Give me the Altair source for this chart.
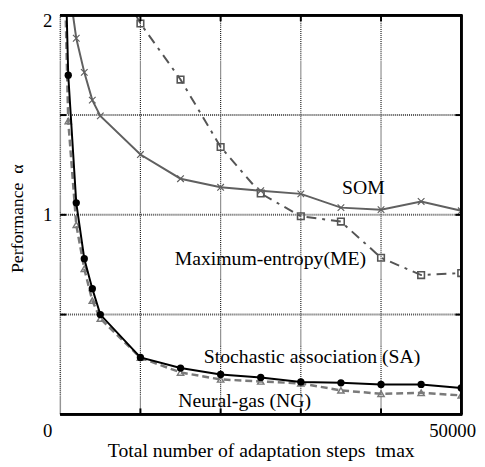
import altair as alt
import pandas as pd

# ---- data ----
X_SA = [500, 1000, 2000, 3000, 4000, 5000, 10000, 15000, 20000, 25000, 30000, 35000, 40000, 45000, 50000]
SA = [2.5, 1.70, 1.06, 0.78, 0.63, 0.50, 0.285, 0.232, 0.20, 0.185, 0.162, 0.158, 0.15, 0.15, 0.132]

X_NG = [500, 1000, 2000, 3000, 4000, 5000, 10000, 15000, 20000, 25000, 30000, 35000, 40000, 45000, 50000]
NG = [2.3, 1.47, 0.95, 0.73, 0.57, 0.48, 0.284, 0.21, 0.175, 0.165, 0.155, 0.12, 0.103, 0.108, 0.095]

X_SOM = [1000, 2000, 3000, 4000, 5000, 10000, 15000, 20000, 25000, 30000, 35000, 40000, 45000, 50000]
SOM = [2.17, 1.885, 1.714, 1.575, 1.496, 1.302, 1.181, 1.138, 1.121, 1.105, 1.036, 1.026, 1.067, 1.02]

X_ME = [5000, 10000, 15000, 20000, 25000, 30000, 35000, 40000, 45000, 50000]
ME = [2.33, 1.959, 1.678, 1.34, 1.107, 0.993, 0.966, 0.785, 0.698, 0.708]

LABELS = ["SOM", "Maximum-entropy(ME)", "Stochastic association (SA)", "Neural-gas (NG)"]
LABEL_X = [37800, 26200, 31400, 23000]
LABEL_Y = [1.103, 0.749, 0.256, 0.039]

X_GRID = [0, 10000, 20000, 30000, 40000]
X_TICKS = [10000, 20000, 30000, 40000]
Y_GRID = [0.5, 1.0, 1.5]

X_TITLE = "Total number of adaptation steps\u00a0\u00a0tmax"
Y_TITLE = "Performance\u00a0\u00a0α"

FONT = "Liberation Serif"
W, H = 407, 405

xs = alt.Scale(domain=[0, 50000], nice=False, zero=False)
ys = alt.Scale(domain=[0, 2], nice=False, zero=False)

def df(xv, yv):
    return pd.DataFrame({"x": xv, "y": yv})

sa, ng, som, me = df(X_SA, SA), df(X_NG, NG), df(X_SOM, SOM), df(X_ME, ME)

# base layer carrying the axis titles
axis_layer = alt.Chart(me).mark_line(opacity=0).encode(
    x=alt.X("x:Q", scale=xs, axis=alt.Axis(
        labels=False, ticks=False, domain=False, grid=False,
        title=X_TITLE,
        titleFont=FONT, titleFontSize=20, titleFontWeight="normal", titleColor="black",
        titleX=W / 2, titleY=43, titleBaseline="alphabetic", titleAlign="center")),
    y=alt.Y("y:Q", scale=ys, axis=alt.Axis(
        labels=False, ticks=False, domain=False, grid=False,
        title=Y_TITLE, titleFont=FONT, titleFontSize=18,
        titleFontWeight="normal", titleColor="black",
        titleX=-43, titleY=206, titleBaseline="middle", titleAlign="center", titleAngle=270)),
)

# grid
xgrid = alt.Chart(pd.DataFrame({"g": X_GRID})).mark_rule(
    color="#222", strokeDash=[1, 1], strokeWidth=1.2).encode(x=alt.X("g:Q", scale=xs))
ygrid = alt.Chart(pd.DataFrame({"g": Y_GRID})).mark_rule(
    color="#555", strokeDash=[1, 1], strokeWidth=2).encode(y=alt.Y("g:Q", scale=ys))

# inward ticks
tdf_x = pd.DataFrame({"t": X_TICKS})
tdf_y = pd.DataFrame({"t": Y_GRID})
tick_top = alt.Chart(tdf_x).mark_rule(color="black", strokeWidth=2).encode(
    x=alt.X("t:Q", scale=xs), y=alt.value(0), y2=alt.value(6))
tick_bot = alt.Chart(tdf_x).mark_rule(color="black", strokeWidth=2).encode(
    x=alt.X("t:Q", scale=xs), y=alt.value(H - 6), y2=alt.value(H))
tick_left = alt.Chart(tdf_y).mark_rule(color="black", strokeWidth=2).encode(
    y=alt.Y("t:Q", scale=ys), x=alt.value(0), x2=alt.value(6))
tick_right = alt.Chart(tdf_y).mark_rule(color="black", strokeWidth=2).encode(
    y=alt.Y("t:Q", scale=ys), x=alt.value(W - 6), x2=alt.value(W))

# frame (top, right, bottom solid)
frame_top = alt.Chart(tdf_x).mark_rule(color="black", strokeWidth=2.5).encode(
    x=alt.value(0), x2=alt.value(W + 1), y=alt.value(0))
frame_bot = alt.Chart(tdf_x).mark_rule(color="black", strokeWidth=2.5).encode(
    x=alt.value(0), x2=alt.value(W + 1), y=alt.value(H))
frame_right = alt.Chart(tdf_x).mark_rule(color="black", strokeWidth=2.5).encode(
    x=alt.value(W), y=alt.value(0), y2=alt.value(H))

enc = dict(x=alt.X("x:Q", scale=xs), y=alt.Y("y:Q", scale=ys))

me_line = alt.Chart(me).mark_line(color="#555", strokeWidth=2, strokeDash=[10, 6, 3, 6], clip=True).encode(**enc)
me_pts = alt.Chart(me).mark_point(shape="square", size=45, filled=False, color="#555",
                                  strokeWidth=1.6, opacity=1, clip=True).encode(**enc)

som_line = alt.Chart(som).mark_line(color="#606060", strokeWidth=2, clip=True).encode(**enc)
som_pts = alt.Chart(som).mark_point(shape="M-1,-1L1,1M-1,1L1,-1", size=45, filled=False,
                                    color="#606060", strokeWidth=1.2, opacity=1, clip=True).encode(**enc)

ng_line = alt.Chart(ng).mark_line(color="#7a7a7a", strokeWidth=2.5, strokeDash=[7, 4], clip=True).encode(**enc)
ng_pts = alt.Chart(ng).mark_point(shape="triangle-up", size=40, filled=False, color="#7a7a7a",
                                  strokeWidth=1.5, opacity=1, clip=True).encode(**enc)

sa_line = alt.Chart(sa).mark_line(color="black", strokeWidth=2, clip=True).encode(**enc)
sa_pts = alt.Chart(sa).mark_point(shape="circle", size=55, filled=True, color="black",
                                  opacity=1, clip=True).encode(**enc)

labels = alt.Chart(pd.DataFrame({"t": LABELS, "x": LABEL_X, "y": LABEL_Y})).mark_text(
    font=FONT, fontSize=20, color="black", align="center", baseline="alphabetic").encode(
    x=alt.X("x:Q", scale=xs), y=alt.Y("y:Q", scale=ys), text="t:N")

# tick labels
xl0 = alt.Chart(pd.DataFrame({"v": [0], "t": ["0"]})).mark_text(
    font=FONT, fontSize=19, color="black", align="right", baseline="alphabetic", dx=-8).encode(
    x=alt.X("v:Q", scale=xs), y=alt.value(H + 23), text="t:N")
xl1 = alt.Chart(pd.DataFrame({"v": [50000], "t": ["50000"]})).mark_text(
    font=FONT, fontSize=19, color="black", align="right", baseline="alphabetic", dx=15).encode(
    x=alt.X("v:Q", scale=xs), y=alt.value(H + 23), text="t:N")
yl2 = alt.Chart(pd.DataFrame({"v": [2], "t": ["2"]})).mark_text(
    font=FONT, fontSize=19, color="black", align="right", baseline="middle", dx=-8, dy=6).encode(
    y=alt.Y("v:Q", scale=ys), x=alt.value(0), text="t:N")
yl1 = alt.Chart(pd.DataFrame({"v": [1], "t": ["1"]})).mark_text(
    font=FONT, fontSize=19, color="black", align="right", baseline="middle", dx=-8).encode(
    y=alt.Y("v:Q", scale=ys), x=alt.value(0), text="t:N")

chart = alt.layer(
    axis_layer, xgrid, ygrid, me_line, me_pts, som_line, som_pts, ng_line, ng_pts,
    sa_line, sa_pts, tick_top, tick_bot, tick_left, tick_right,
    frame_top, frame_bot, frame_right, labels, xl0, xl1, yl2, yl1,
).properties(
    width=W, height=H,
    autosize=alt.AutoSizeParams(type="none"),
    padding={"left": 53, "top": 4, "right": 16, "bottom": 48},
).configure_view(stroke=None).configure(background="white")

chart.save("out.html", embed_options={"renderer": "svg", "actions": False})
